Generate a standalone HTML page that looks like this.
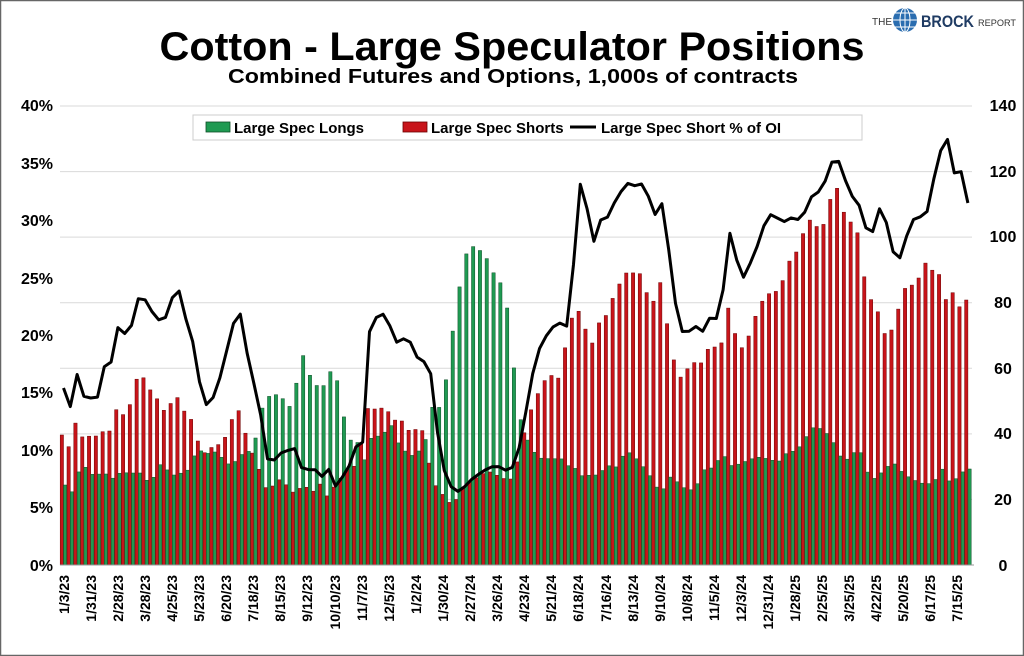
<!DOCTYPE html>
<html><head><meta charset="utf-8"><style>
html,body{margin:0;padding:0;background:#fff;}
svg{display:block;font-family:"Liberation Sans",Arial,sans-serif;}
</style></head><body>
<svg id="s" width="1024" height="656" viewBox="0 0 1024 656" xmlns="http://www.w3.org/2000/svg">
<rect x="0.5" y="0.5" width="1023" height="655" fill="#fff" stroke="#666" stroke-width="1.5"/>
<g stroke="#d9d9d9" stroke-width="1">
<line x1="60" x2="972" y1="106" y2="106"/><line x1="60" x2="972" y1="171.6" y2="171.6"/>
<line x1="60" x2="972" y1="237.1" y2="237.1"/><line x1="60" x2="972" y1="302.7" y2="302.7"/>
<line x1="60" x2="972" y1="368.3" y2="368.3"/><line x1="60" x2="972" y1="433.9" y2="433.9"/>
<line x1="60" x2="972" y1="499.4" y2="499.4"/>
</g>
<g id="bars"></g>
<line x1="60" x2="974" y1="565" y2="565" stroke="#999" stroke-width="1"/>
<polyline id="ln" fill="none" stroke="#000" stroke-width="3" stroke-linejoin="round"/>
<text x="512" y="60" text-anchor="middle" font-size="40" font-weight="bold" textLength="705" lengthAdjust="spacingAndGlyphs">Cotton - Large Speculator Positions</text>
<text x="513" y="83" text-anchor="middle" font-size="20" font-weight="bold" textLength="570" lengthAdjust="spacingAndGlyphs">Combined Futures and Options, 1,000s of contracts</text>
<text x="872" y="25" font-size="10" fill="#333">THE</text>
<circle cx="905" cy="20" r="12" fill="#2a6db0"/>
<path d="M893 20h24M905 8v24M895 13h20M895 27h20" stroke="#fff" stroke-width="1" fill="none"/>
<ellipse cx="905" cy="20" rx="5" ry="12" fill="none" stroke="#fff" stroke-width="1"/>
<text x="921" y="27" font-size="17" font-weight="bold" fill="#1f3b63" textLength="53" lengthAdjust="spacingAndGlyphs">BROCK</text>
<text x="978" y="26" font-size="9" fill="#333" textLength="38" lengthAdjust="spacingAndGlyphs">REPORT</text>
<rect x="193" y="115" width="669" height="25" fill="#fff" stroke="#ccc"/>
<rect x="206" y="122" width="24" height="10" fill="#1f9a52" stroke="#0d4d26" stroke-width="0.8"/>
<text x="234" y="133" font-size="15" font-weight="bold">Large Spec Longs</text>
<rect x="403" y="122" width="24" height="10" fill="#c8141a" stroke="#6b0000" stroke-width="0.8"/>
<text x="431" y="133" font-size="15" font-weight="bold">Large Spec Shorts</text>
<line x1="570" x2="596" y1="127" y2="127" stroke="#000" stroke-width="3"/>
<text x="601" y="133" font-size="15" font-weight="bold">Large Spec Short % of OI</text>
<g font-size="16" font-weight="bold" text-anchor="end">
<text x="53" y="111">40%</text><text x="53" y="169">35%</text><text x="53" y="226">30%</text>
<text x="53" y="284">25%</text><text x="53" y="341">20%</text><text x="53" y="398">15%</text>
<text x="53" y="456">10%</text><text x="53" y="513">5%</text><text x="53" y="571">0%</text>
</g>
<g font-size="16" font-weight="bold" text-anchor="middle">
<text x="1003" y="111">140</text><text x="1003" y="177">120</text><text x="1003" y="242">100</text>
<text x="1003" y="308">80</text><text x="1003" y="374">60</text><text x="1003" y="439">40</text>
<text x="1003" y="505">20</text><text x="1003" y="571">0</text>
</g>
<g font-size="14" font-weight="bold" text-anchor="end">
<text transform="translate(69,575) rotate(-90)">1/3/23</text>
<text transform="translate(96,575) rotate(-90)">1/31/23</text>
<text transform="translate(123,575) rotate(-90)">2/28/23</text>
<text transform="translate(150,575) rotate(-90)">3/28/23</text>
<text transform="translate(177,575) rotate(-90)">4/25/23</text>
<text transform="translate(204,575) rotate(-90)">5/23/23</text>
<text transform="translate(231,575) rotate(-90)">6/20/23</text>
<text transform="translate(258,575) rotate(-90)">7/18/23</text>
<text transform="translate(285,575) rotate(-90)">8/15/23</text>
<text transform="translate(312,575) rotate(-90)">9/12/23</text>
<text transform="translate(340,575) rotate(-90)">10/10/23</text>
<text transform="translate(367,575) rotate(-90)">11/7/23</text>
<text transform="translate(394,575) rotate(-90)">12/5/23</text>
<text transform="translate(421,575) rotate(-90)">1/2/24</text>
<text transform="translate(448,575) rotate(-90)">1/30/24</text>
<text transform="translate(475,575) rotate(-90)">2/27/24</text>
<text transform="translate(502,575) rotate(-90)">3/26/24</text>
<text transform="translate(529,575) rotate(-90)">4/23/24</text>
<text transform="translate(556,575) rotate(-90)">5/21/24</text>
<text transform="translate(583,575) rotate(-90)">6/18/24</text>
<text transform="translate(611,575) rotate(-90)">7/16/24</text>
<text transform="translate(638,575) rotate(-90)">8/13/24</text>
<text transform="translate(665,575) rotate(-90)">9/10/24</text>
<text transform="translate(692,575) rotate(-90)">10/8/24</text>
<text transform="translate(719,575) rotate(-90)">11/5/24</text>
<text transform="translate(746,575) rotate(-90)">12/3/24</text>
<text transform="translate(773,575) rotate(-90)">12/31/24</text>
<text transform="translate(800,575) rotate(-90)">1/28/25</text>
<text transform="translate(827,575) rotate(-90)">2/25/25</text>
<text transform="translate(854,575) rotate(-90)">3/25/25</text>
<text transform="translate(881,575) rotate(-90)">4/22/25</text>
<text transform="translate(908,575) rotate(-90)">5/20/25</text>
<text transform="translate(935,575) rotate(-90)">6/17/25</text>
<text transform="translate(962,575) rotate(-90)">7/15/25</text>
</g>
</svg>
<script>
var red=[435,447,422,438,436,436,431,431,405,417,401,372,380,394,401,415,397,398,420,419,459,447,448,441,433,402,423,449,460,487,489,479,482,493,489,486,493,482,497,488,479,469,467,443,
408,409,408,412,421,421,432,429,431,472,490,496,505,497,484,481,476,472,472,478,479,479,444,420,397,389,368,388,360,323,307,322,349,324,319,301,286,273,273,272,292,302,282,324,361,
378,368,362,363,347,347,342,299,344,349,331,310,297,292,291,274,252,252,218,222,231,217,178,202,227,214,266,298,303,333,335,315,289,286,281,262,270,272,300,292,307,300];
var grn=[485,492,471,467,475,474,474,479,472,473,473,473,483,475,460,475,475,472,469,446,455,452,452,463,465,457,451,452,414,397,395,394,411,393,351,373,385,388,371,377,415,440,442,460,
438,436,432,425,445,452,456,450,437,399,410,369,316,274,244,248,252,263,280,285,328,406,434,447,459,457,461,455,466,465,476,475,476,472,465,469,457,452,458,466,475,487,489,477,482,
488,490,483,468,468,459,456,468,463,461,458,457,459,461,461,449,453,442,432,424,433,434,453,460,458,444,468,480,475,468,462,470,476,480,483,484,481,468,481,479,472,469];
var lin=[388,407,373,398,398,397,362,362,320,337,322,291,303,315,322,315,288,293,337,345,412,398,397,357,343,298,337,378,393,457,463,453,453,443,467,470,468,478,467,487,478,467,447,443,
330,317,314,327,344,338,343,360,362,377,450,478,490,492,484,477,473,468,466,467,473,462,433,387,357,337,334,315,338,302,
180,195,248,220,220,205,193,183,186,183,195,215,
203,250,305,333,331,326,332,316,319,283,220,272,279,257,242,218,213,221,222,215,223,203,191,193,168,155,170,196,197,220,243,207,213,248,263,240,220,217,216,182,152,137,173,171,203];
function rs(a,n){var o=[],m=a.length-1;for(var i=0;i<n;i++){var t=i*m/(n-1),k=Math.floor(t),f=t-k;o.push(k>=m?a[m]:a[k]*(1-f)+a[k+1]*f);}return o;}
var N=134,R=rs(red,N),G=rs(grn,N),L=rs(lin,N),h='',p=[];
for(var i=0;i<N;i++){var c=63.5+i*6.8;
h+='<rect x="'+(c-3.3).toFixed(2)+'" y="'+R[i].toFixed(1)+'" width="3.3" height="'+(565-R[i]).toFixed(1)+'" fill="#c8141a" stroke="#6b0000" stroke-width="0.5"/>';
h+='<rect x="'+c.toFixed(2)+'" y="'+G[i].toFixed(1)+'" width="3.3" height="'+(565-G[i]).toFixed(1)+'" fill="#1f9a52" stroke="#0d4d26" stroke-width="0.5"/>';
p.push(c.toFixed(1)+','+L[i].toFixed(1));}
document.getElementById('bars').innerHTML=h;
document.getElementById('ln').setAttribute('points',p.join(' '));
</script>
</body></html>
